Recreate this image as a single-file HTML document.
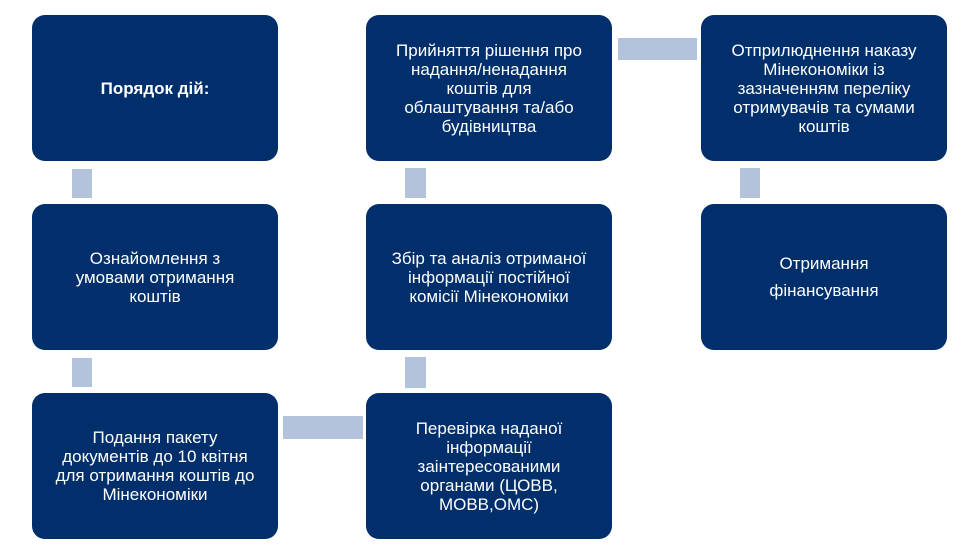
<!DOCTYPE html>
<html><head><meta charset="utf-8"><style>
body{margin:0;width:977px;height:558px;background:#fff;position:relative;overflow:hidden;font-family:"Liberation Sans",Arial,sans-serif}
.b{position:absolute;width:246px;height:146px;background:#002f6c;border-radius:13px;color:#fff;font-size:17px;line-height:19px;display:flex;align-items:center;justify-content:center;text-align:center;box-sizing:border-box;padding:0 6px}
.c{position:absolute;background:#b4c3dc}
</style></head><body>
<div class="b" style="left:32px;top:15px;font-weight:bold;padding-bottom:0">Порядок дій:</div>
<div class="b" style="left:32px;top:204px">Ознайомлення з<br>умовами отримання<br>коштів</div>
<div class="b" style="left:32px;top:393px">Подання пакету<br>документів до 10 квітня<br>для отримання коштів до<br>Мінекономіки</div>
<div class="b" style="left:366px;top:15px">Прийняття рішення про<br>надання/ненадання<br>коштів для<br>облаштування та/або<br>будівництва</div>
<div class="b" style="left:366px;top:204px">Збір та аналіз отриманої<br>інформації постійної<br>комісії Мінекономіки</div>
<div class="b" style="left:366px;top:393px">Перевірка наданої<br>інформації<br>заінтересованими<br>органами (ЦОВВ,<br>МОВВ,ОМС)</div>
<div class="b" style="left:701px;top:15px">Отприлюднення наказу<br>Мінекономіки із<br>зазначенням переліку<br>отримувачів та сумами<br>коштів</div>
<div class="b" style="left:701px;top:204px;line-height:27px">Отримання<br>фінансування</div>
<div class="c" style="left:72px;top:169px;width:20px;height:29px"></div>
<div class="c" style="left:72px;top:358px;width:20px;height:29px"></div>
<div class="c" style="left:405px;top:168px;width:21px;height:30px"></div>
<div class="c" style="left:405px;top:357px;width:21px;height:31px"></div>
<div class="c" style="left:740px;top:168px;width:20px;height:30px"></div>
<div class="c" style="left:283px;top:416px;width:80px;height:23px"></div>
<div class="c" style="left:618px;top:38px;width:79px;height:22px"></div>
</body></html>
